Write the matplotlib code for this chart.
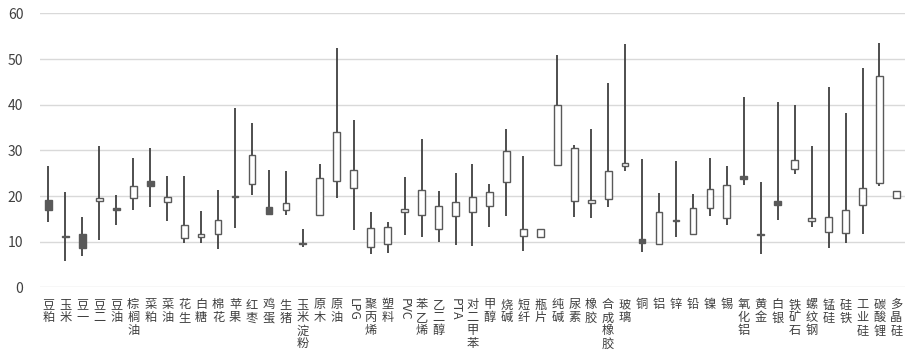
import matplotlib

matplotlib.use("Agg")
import matplotlib.pyplot as plt
import numpy as np

plt.rcParams["font.family"] = ["Noto Sans CJK SC", "DejaVu Sans"]

names = ["豆粕", "玉米", "豆一", "豆二", "豆油", "棕榈油", "菜粕", "菜油", "花生", "白糖",
         "棉花", "苹果", "红枣", "鸡蛋", "生猪", "玉米淀粉", "原木", "原油", "LPG", "聚丙烯",
         "塑料", "PVC", "苯乙烯", "乙二醇", "PTA", "对二甲苯", "甲醇", "烧碱", "短纤", "瓶片",
         "纯碱", "尿素", "橡胶", "合成橡胶", "玻璃", "铜", "铝", "锌", "铅", "镍",
         "锡", "氧化铝", "黄金", "白银", "铁矿石", "螺纹钢", "锰硅", "硅铁", "工业硅", "碳酸锂",
         "多晶硅"]

opens = [19.2, 11.3, 11.7, 19.0, 17.3, 19.5, 23.4, 18.7, 10.9, 11.0,
         11.7, 20.0, 22.6, 17.6, 16.9, 9.7, 15.8, 23.4, 21.7, 8.8,
         9.6, 16.5, 15.8, 12.8, 15.6, 16.5, 17.8, 23.0, 11.3, 11.0,
         26.8, 19.0, 18.4, 19.4, 26.7, 10.6, 9.6, 14.7, 11.7, 17.4,
         15.1, 24.4, 11.6, 19.0, 26.0, 14.5, 12.2, 12.0, 18.1, 22.9,
         19.5]
highs = [26.5, 20.8, 15.4, 31.0, 20.3, 28.4, 30.5, 24.5, 24.4, 16.8,
         21.3, 39.2, 36.1, 25.7, 25.4, 12.9, 27.0, 52.4, 36.7, 16.5,
         14.3, 24.1, 32.6, 21.2, 25.0, 27.0, 22.6, 34.7, 28.8, 12.8,
         50.8, 31.2, 34.6, 44.7, 53.3, 28.1, 20.7, 27.7, 20.5, 28.3,
         26.6, 41.7, 23.2, 40.6, 40.0, 31.0, 44.0, 38.2, 48.0, 53.6,
         21.2]
lows = [14.4, 5.7, 6.9, 10.3, 13.6, 17.0, 17.7, 14.6, 9.7, 9.7,
        8.4, 13.0, 20.3, 15.8, 15.9, 8.8, 15.8, 19.6, 12.6, 7.4,
        7.5, 11.4, 11.1, 9.9, 9.4, 9.0, 13.2, 15.7, 7.9, 11.0,
        26.8, 15.5, 15.2, 17.7, 25.5, 7.7, 9.5, 11.0, 11.7, 15.7,
        13.6, 22.4, 7.4, 14.7, 24.8, 13.3, 8.6, 9.8, 11.6, 22.2,
        19.5]
closes = [17.0, 11.1, 8.7, 19.6, 16.9, 22.2, 22.3, 19.9, 13.6, 11.7,
          14.8, 19.8, 28.9, 16.1, 18.6, 9.5, 23.9, 34.1, 25.8, 13.0,
          13.2, 17.1, 21.4, 17.9, 18.7, 19.8, 21.0, 29.8, 12.8, 12.8,
          39.9, 30.6, 19.1, 25.5, 27.3, 9.8, 16.6, 14.5, 17.3, 21.5,
          22.5, 23.8, 11.4, 18.1, 27.8, 15.2, 15.4, 16.9, 21.8, 46.4,
          21.2]

INK = "#595959"
WICK = "#404040"
TEXT = "#404040"
GRID = "#d9d9d9"

x = np.arange(len(names))
o = np.array(opens)
c = np.array(closes)
up = c >= o
bottom = np.minimum(o, c)
height = np.maximum(np.abs(c - o), 0.15)

fig, ax = plt.subplots(figsize=(9.15, 3.54), dpi=100)
fig.subplots_adjust(left=0.0437, right=0.989, top=0.962, bottom=0.188)

# wicks first, boxes on top (white boxes hide the wick inside)
ax.vlines(x, lows, highs, color=WICK, lw=1.3, zorder=2)
ax.bar(x[up], height[up], bottom=bottom[up], width=0.4,
       color="white", edgecolor=INK, linewidth=1.0, zorder=3)
ax.bar(x[~up], height[~up], bottom=bottom[~up], width=0.4,
       color=INK, edgecolor=INK, linewidth=1.0, zorder=3)

ax.set_xlim(-0.5, len(names) - 0.5)
ax.set_ylim(0, 60)
ax.set_yticks(range(0, 61, 10))
ax.yaxis.grid(True, color=GRID, lw=1.0)
ax.set_axisbelow(True)
for s in ax.spines.values():
    s.set_visible(False)
ax.tick_params(axis="both", length=0, colors=TEXT)
ax.tick_params(axis="y", labelsize=10, pad=12)

# category labels: CJK stacked one glyph per line, latin rotated
ax.set_xticks(x)
ax.set_xticklabels([])
for xi, name in zip(x, names):
    if name.isascii():
        ax.text(xi, -2.4, name, rotation=-90, ha="center", va="top",
                fontsize=8.8, color=TEXT)
    else:
        ax.text(xi, -2.4, "\n".join(name), ha="center", va="top",
                fontsize=8.8, color=TEXT, linespacing=1.0)

fig.savefig("out.png", dpi=100, facecolor="white")
